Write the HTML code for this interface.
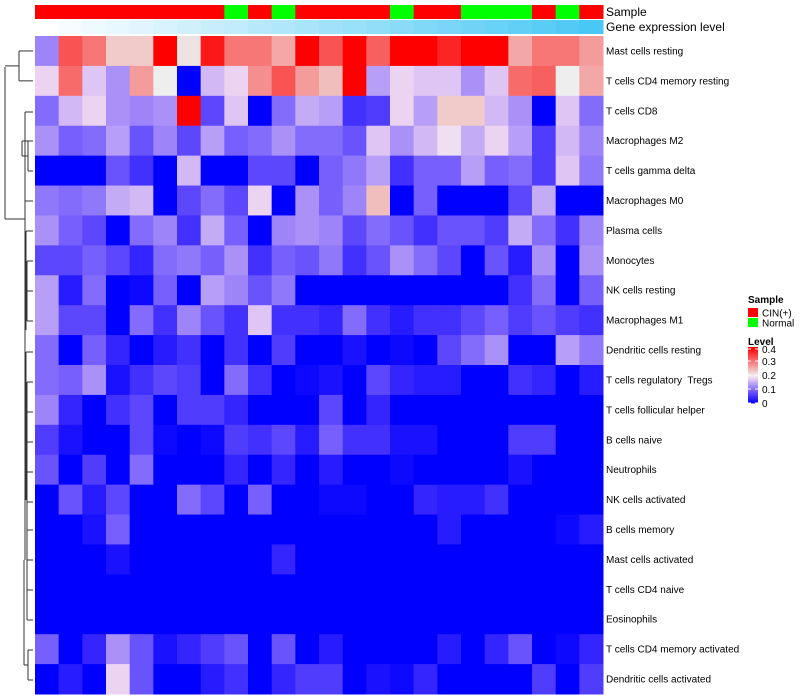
<!DOCTYPE html>
<html><head><meta charset="utf-8"><style>
body{margin:0;background:#fff;width:800px;height:700px;overflow:hidden;font-family:"Liberation Sans",sans-serif}
svg{display:block}
text{white-space:pre}
</style></head><body>
<svg id="chart" width="800" height="700" xmlns="http://www.w3.org/2000/svg"></svg>
<script>
const rowNames=["Mast cells resting","T cells CD4 memory resting","T cells CD8","Macrophages M2","T cells gamma delta","Macrophages M0","Plasma cells","Monocytes","NK cells resting","Macrophages M1","Dendritic cells resting","T cells regulatory  Tregs","T cells follicular helper","B cells naive","Neutrophils","NK cells activated","B cells memory","Mast cells activated","T cells CD4 naive","Eosinophils","T cells CD4 memory activated","Dendritic cells activated"];
const sampleGroups=["C","C","C","C","C","C","C","C","N","C","N","C","C","C","C","N","C","C","N","N","N","C","N","C"];
const r1=[0.12,0.33,0.3,0.23,0.23,0.4,0.21,0.38,0.3,0.3,0.26,0.4,0.33,0.4,0.32,0.4,0.4,0.37,0.4,0.4,0.26,0.3,0.3,0.27];
const r2=[0.18,0.31,0.17,0.13,0.27,0.2,0,0.16,0.18,0.28,0.33,0.27,0.24,0.4,0.14,0.18,0.17,0.17,0.13,0.17,0.31,0.32,0.2,0.26];
const r3=[0.1,0.16,0.18,0.13,0.12,0.13,0.4,0.07,0.17,0,0.1,0.15,0.14,0.05,0.06,0.18,0.14,0.23,0.23,0.16,0.13,0,0.17,0.1];
const r4=[0.13,0.09,0.1,0.14,0.08,0.12,0.07,0.14,0.09,0.1,0.13,0.1,0.1,0.08,0.17,0.13,0.16,0.19,0.15,0.18,0.14,0.06,0.16,0.12];
const r5=[0,0,0,0.08,0.05,0,0.16,0,0,0.07,0.07,0,0.09,0.11,0.14,0.05,0.09,0.09,0.14,0.09,0.1,0.06,0.17,0.11];
const r6=[0.11,0.1,0.11,0.15,0.16,0,0.07,0.1,0.07,0.18,0,0.13,0.09,0.12,0.24,0,0.09,0,0,0,0.07,0.15,0,0];
const r7=[0.13,0.09,0.07,0,0.1,0.12,0.05,0.15,0.09,0,0.12,0.13,0.12,0.07,0.1,0.08,0.05,0.08,0.08,0.06,0.15,0.1,0.05,0.12];
const r8=[0.07,0.07,0.09,0.07,0.04,0.1,0.11,0.09,0.13,0.05,0.09,0.08,0.11,0.05,0.08,0.13,0.1,0.07,0,0.08,0.03,0.13,0,0.13];
const r9=[0.14,0.03,0.1,0,0.01,0.09,0,0.14,0.12,0.08,0.11,0,0,0,0,0,0,0,0,0,0.05,0.1,0,0.09];
const r10=[0.14,0.07,0.07,0,0.1,0.05,0.12,0.08,0.05,0.17,0.05,0.05,0.04,0.1,0.05,0.03,0.05,0.05,0.07,0.09,0.06,0.08,0.06,0.05];
const r11=[0.1,0,0.09,0.04,0,0.03,0.05,0,0.05,0,0.06,0,0,0.02,0,0.01,0,0.07,0.1,0.13,0,0,0.14,0.11];
const r12=[0.1,0.09,0.13,0.02,0.05,0.07,0.06,0,0.1,0.05,0,0.01,0.02,0,0.07,0.04,0.03,0.03,0,0,0.05,0.04,0,0.03];
const r13=[0.12,0.04,0,0.05,0.07,0,0.06,0.06,0.04,0,0,0,0.07,0,0.04,0,0,0,0,0,0,0,0,0];
const r14=[0.06,0.02,0,0,0.07,0.01,0,0.01,0.06,0.05,0.07,0.03,0.09,0.05,0.05,0.02,0.02,0,0,0,0.06,0.06,0,0];
const r15=[0.08,0,0.06,0,0.1,0,0,0,0.04,0,0.04,0,0.03,0,0,0.01,0,0,0,0,0.02,0,0,0];
const r16=[0,0.08,0.03,0.07,0,0,0.1,0.07,0,0.09,0,0,0.01,0.01,0,0,0.04,0.03,0.03,0.05,0,0,0,0];
const r17=[0,0,0.02,0.09,0,0,0,0,0,0,0,0,0,0,0,0,0,0.03,0,0,0,0,0.01,0.03];
const r18=[0,0,0,0.02,0,0,0,0,0,0,0.04,0,0,0,0,0,0,0,0,0,0,0,0,0];
const r19=[0,0,0,0,0,0,0,0,0,0,0,0,0,0,0,0,0,0,0,0,0,0,0,0];
const r20=[0,0,0,0,0,0,0,0,0,0,0,0,0,0,0,0,0,0,0,0,0,0,0,0];
const r21=[0.09,0,0.04,0.13,0.08,0.02,0.04,0.06,0.08,0,0.08,0,0.03,0,0,0,0,0.03,0,0.04,0.08,0,0.01,0.04];
const r22=[0,0.03,0,0.18,0.08,0,0,0.03,0.05,0,0.04,0.06,0.06,0,0.02,0.01,0.04,0,0,0,0,0.06,0,0.06];
const values=[r1,r2,r3,r4,r5,r6,r7,r8,r9,r10,r11,r12,r13,r14,r15,r16,r17,r18,r19,r20,r21,r22];
const legendTicks=[0,0.1,0.2,0.3,0.4];

const NS="http://www.w3.org/2000/svg";
const svg=document.getElementById('chart');
const X0=35,X1=603,Y0=36,Y1=694;
const nC=24,nR=rowNames.length;
const cw=(X1-X0)/nC,rh=(Y1-Y0)/nR;
const xS=i=>X0+i*cw, yS=j=>Y0+j*rh;
function col(v){v=Math.max(0,Math.min(0.4,v));
 if(v<=0.2){const t=v/0.2;
  const r=Math.round(Math.min(238,262*t)),g=Math.round(Math.min(238,238*Math.pow(t,1.15)));
  return `rgb(${r},${g},${Math.round(255-17*t*t)})`;}
 const t=(v-0.2)/0.2;const c=Math.round(238*(1-t));return `rgb(${Math.round(238+17*t)},${c},${c})`;}
function mk(tag,a,p){const e=document.createElementNS(NS,tag);for(const k in a)e.setAttribute(k,a[k]);(p||svg).appendChild(e);return e;}
const gSample=mk('g',{});


const gGene=mk('g',{});


sampleGroups.forEach((s,i)=>{
 const r=mk('rect',{x:xS(i),y:5,width:cw+0.5,height:14,fill:s==="C"?"#FF0000":"#00FF00"},gSample);
 
 
 const t=i/(nC-1);
 const g=mk('rect',{x:xS(i),y:20,width:cw+0.5,height:14,fill:`rgb(${Math.round(255-181*t)},${Math.round(255-55*t)},${Math.round(255-10*t)})`},gGene);
 
 
});
const gH=mk('g',{});


values.forEach((row,j)=>row.forEach((v,i)=>{
 const r=mk('rect',{x:xS(i),y:yS(j),width:cw+0.5,height:rh+0.5,fill:col(v)},gH);
 
 
}));
rowNames.forEach((n,j)=>{
 const t=mk('text',{x:606,y:yS(j)+rh/2+3.5,'font-size':10,fill:'#000'});t.textContent=n;
 
 
});
[["Sample",16],["Gene expression level",31]].forEach(([s,y])=>{
 const t=mk('text',{x:606,y:y,'font-size':12,fill:'#000'});t.textContent=s;
 
 
});
const gD=mk('g',{stroke:'#333','stroke-width':1,fill:'none'});


const yc=j=>yS(j)+rh/2;
const segs=[[19,yc(0),33,yc(0)],[19,yc(1),33,yc(1)],[19,yc(0),19,yc(1)],
[5,(yc(0)+yc(1))/2,19,(yc(0)+yc(1))/2],[5,67,5,219],[5,219,25,219],
[25,112,25,330],[25,112,33,112],[22,141,22,156],[22,141,33,141],[22,156,28,156],[28,141,33,141],[28,171,33,171],[28,141,28,171],
[25,201,33,201],[25,201,25,560],[26,231,33,231],[26,231,26,330],[27,261,33,261],[27,291,33,291],[27,321,33,321],[27,261,27,321],
[26,352,33,352],[26,352,26,500],[27,382,33,382],[27,412,33,412],[27,442,33,442],[27,472,33,472],[27,502,33,502],[27,530,33,530],[27,560,33,560],[27,590,33,590],[27,620,33,620],[27,382,27,620],
[24,560,24,665],[24,665,28,665],[28,650,33,650],[28,680,33,680],[28,650,28,680]];
segs.forEach(s=>mk('line',{x1:s[0],y1:s[1],x2:s[2],y2:s[3]},gD));
const gL=mk('g',{});


const tt=(s,x,y,b)=>{const t=mk('text',{x:x,y:y,'font-size':10,'font-weight':b?'bold':'normal',fill:'#000'},gL);t.textContent=s;return t;};
tt("Sample",748,303,true);
[["CIN(+)","#FF0000",308],["Normal","#00FF00",318]].forEach(([s,c,y])=>{
 const r=mk('rect',{x:748,y:y,width:10,height:9,fill:c},gL);
 
 
 const t=tt(s,762,y+8.5,false);
 
 
});
tt("Level",748,345,true);
const cbTop=347,cbBot=403;
for(let k=0;k<40;k++){mk('rect',{x:748,y:cbTop+k*(cbBot-cbTop)/40,width:10,height:(cbBot-cbTop)/40+0.5,fill:col(0.4-k*0.01)},gL);}
legendTicks.forEach(v=>{const y=cbBot-(v/0.4)*(cbBot-cbTop)+ (v===0.4?2:0);
 mk('line',{x1:748,y1:y,x2:751,y2:y,stroke:'#fff'},gL);mk('line',{x1:755,y1:y,x2:758,y2:y,stroke:'#fff'},gL);
 const t=tt(String(v),762,y+4,false);
 
 });
</script>
</body></html>
